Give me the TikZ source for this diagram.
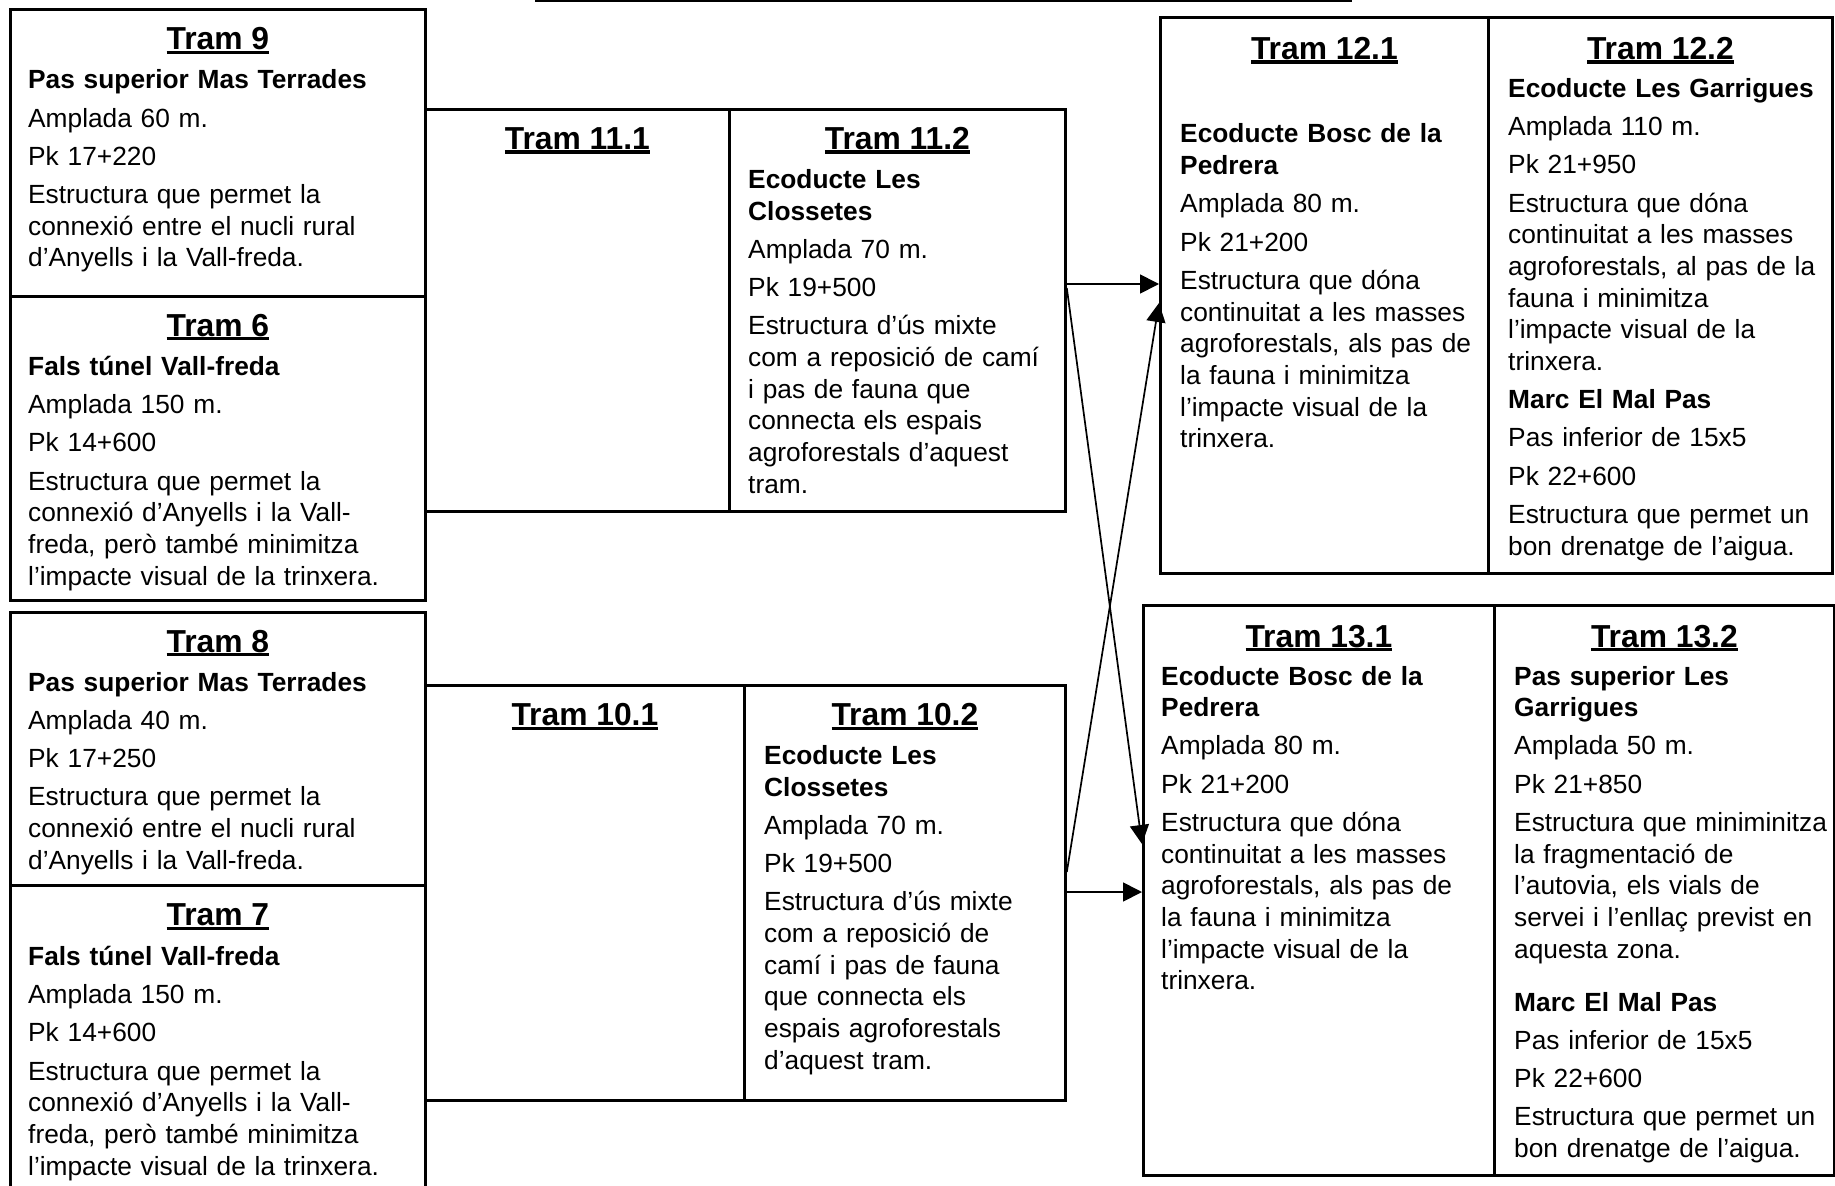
\documentclass[tikz,border=0pt]{standalone}
\usepackage{fontspec}
\setmainfont{Liberation Sans}
\usetikzlibrary{arrows.meta, calc, positioning}

% underlined title text
\newcommand{\tramul}[1]{\setbox0\hbox{#1}\rlap{\rule[-4.3pt]{\wd0}{3.3pt}}\box0}
\newcommand{\pgap}{\\[6.5pt]}

\tikzset{
  cell/.style 2 args={draw, line width=2.8pt, anchor=north west, inner sep=0pt,
    minimum width=#1pt, minimum height=#2pt},
  head/.style={anchor=base, inner sep=0pt, font=\fontsize{31.8}{38}\selectfont\bfseries},
  body/.style={anchor=base west, inner sep=0pt, text width=400pt, align=left,
    font=\fontsize{26.3}{31.7}\selectfont},
  link/.style={line width=1.7pt, -{Triangle[length=19pt,width=19pt]}}
}

\begin{document}
\begin{tikzpicture}[x=1pt, y=-1pt]
    \useasboundingbox (0,0) rectangle (1835,1185);
    \draw[line width=2pt] (535,1) -- (1352,1);

    % left column
    \node[cell={415}{287}] (t9) at (9,8) {};
    \node[head] (t9h) at ($(t9.north)+(0,42)$) {\tramul{Tram 9}};
    \node[body] (t9b) at ($(t9.north west)+(19,81)$) {
        \textbf{Pas superior Mas Terrades}\pgap
        Amplada 60 m.\pgap
        Pk 17+220\pgap
        Estructura que permet la\\
        connexió entre el nucli rural\\
        d’Anyells i la Vall-freda.};

    \node[cell={415}{304}] (t6) at (9,295) {};
    \node[head] (t6h) at ($(t6.north)+(0,41)$) {\tramul{Tram 6}};
    \node[body] (t6b) at ($(t6.north west)+(19,80.5)$) {
        \textbf{Fals túnel Vall-freda}\pgap
        Amplada 150 m.\pgap
        Pk 14+600\pgap
        Estructura que permet la\\
        connexió d’Anyells i la Vall-\\
        freda, però també minimitza\\
        l’impacte visual de la trinxera.};

    \node[cell={415}{273}] (t8) at (9,611) {};
    \node[head] (t8h) at ($(t8.north)+(0,41)$) {\tramul{Tram 8}};
    \node[body] (t8b) at ($(t8.north west)+(19,80)$) {
        \textbf{Pas superior Mas Terrades}\pgap
        Amplada 40 m.\pgap
        Pk 17+250\pgap
        Estructura que permet la\\
        connexió entre el nucli rural\\
        d’Anyells i la Vall-freda.};

    \node[cell={415}{320}] (t7) at (9,884) {};
    \node[head] (t7h) at ($(t7.north)+(0,41.5)$) {\tramul{Tram 7}};
    \node[body] (t7b) at ($(t7.north west)+(19,81.5)$) {
        \textbf{Fals túnel Vall-freda}\pgap
        Amplada 150 m.\pgap
        Pk 14+600\pgap
        Estructura que permet la\\
        connexió d’Anyells i la Vall-\\
        freda, però també minimitza\\
        l’impacte visual de la trinxera.};

    % middle column
    \node[cell={304}{402}] (t111) at (424,108) {};
    \node[head] (t111h) at ($(t111.north)+(0,41.5)$) {\tramul{Tram 11.1}};
    \node[cell={336}{402}] (t112) at (728,108) {};
    \node[head] (t112h) at ($(t112.north)+(0,41.5)$) {\tramul{Tram 11.2}};
    \node[body] (t112b) at ($(t112.north west)+(20,80.5)$) {
        \textbf{Ecoducte Les}\\
        \textbf{Clossetes}\pgap
        Amplada 70 m.\pgap
        Pk 19+500\pgap
        Estructura d’ús mixte\\
        com a reposició de camí\\
        i pas de fauna que\\
        connecta els espais\\
        agroforestals d’aquest\\
        tram.};

    \node[cell={319}{415}] (t101) at (424,684) {};
    \node[head] (t101h) at ($(t101.north)+(0,41.5)$) {\tramul{Tram 10.1}};
    \node[cell={321}{415}] (t102) at (743,684) {};
    \node[head] (t102h) at ($(t102.north)+(0,41.5)$) {\tramul{Tram 10.2}};
    \node[body] (t102b) at ($(t102.north west)+(21,80.5)$) {
        \textbf{Ecoducte Les}\\
        \textbf{Clossetes}\pgap
        Amplada 70 m.\pgap
        Pk 19+500\pgap
        Estructura d’ús mixte\\
        com a reposició de\\
        camí i pas de fauna\\
        que connecta els\\
        espais agroforestals\\
        d’aquest tram.};

    % right column
    \node[cell={328}{556}] (t121) at (1159,16) {};
    \node[head] (t121h) at ($(t121.north)+(0,43.5)$) {\tramul{Tram 12.1}};
    \node[body] (t121b) at ($(t121.north west)+(21,127)$) {
        \textbf{Ecoducte Bosc de la}\\
        \textbf{Pedrera}\pgap
        Amplada 80 m.\pgap
        Pk 21+200\pgap
        Estructura que dóna\\
        continuitat a les masses\\
        agroforestals, als pas de\\
        la fauna i minimitza\\
        l’impacte visual de la\\
        trinxera.};
    \node[cell={344}{556}] (t122) at (1487,16) {};
    \node[head] (t122h) at ($(t122.north)+(0,43.5)$) {\tramul{Tram 12.2}};
    \node[body] (t122b) at ($(t122.north west)+(21,81.5)$) {
        \textbf{Ecoducte Les Garrigues}\pgap
        Amplada 110 m.\pgap
        Pk 21+950\pgap
        Estructura que dóna\\
        continuitat a les masses\\
        agroforestals, al pas de la\\
        fauna i minimitza\\
        l’impacte visual de la\\
        trinxera.\pgap
        \textbf{Marc El Mal Pas}\pgap
        Pas inferior de 15x5\pgap
        Pk 22+600\pgap
        Estructura que permet un\\
        bon drenatge de l’aigua.};

    \node[cell={351}{570}] (t131) at (1142,604) {};
    \node[head] (t131h) at ($(t131.north)+(0,43)$) {\tramul{Tram 13.1}};
    \node[body] (t131b) at ($(t131.north west)+(19,81)$) {
        \textbf{Ecoducte Bosc de la}\\
        \textbf{Pedrera}\pgap
        Amplada 80 m.\pgap
        Pk 21+200\pgap
        Estructura que dóna\\
        continuitat a les masses\\
        agroforestals, als pas de\\
        la fauna i minimitza\\
        l’impacte visual de la\\
        trinxera.};
    \node[cell={340}{570}] (t132) at (1493,604) {};
    \node[head] (t132h) at ($(t132.north)+(0,43)$) {\tramul{Tram 13.2}};
    \node[body] (t132b) at ($(t132.north west)+(21,81)$) {
        \textbf{Pas superior Les}\\
        \textbf{Garrigues}\pgap
        Amplada 50 m.\pgap
        Pk 21+850\pgap
        Estructura que miniminitza\\
        la fragmentació de\\
        l’autovia, els vials de\\
        servei i l’enllaç previst en\\
        aquesta zona.\\[21.5pt]
        \textbf{Marc El Mal Pas}\pgap
        Pas inferior de 15x5\pgap
        Pk 22+600\pgap
        Estructura que permet un\\
        bon drenatge de l’aigua.};

    % connections
    \draw[link] ($(t112.north east)+(0,176)$) -- ($(t121.north west)+(0,268)$);
    \draw[link] ($(t112.north east)+(0,180)$) -- ($(t131.north west)+(0,240)$);
    \draw[link] ($(t102.north east)+(0,188)$) -- ($(t121.north west)+(0,287)$);
    \draw[link] ($(t102.north east)+(0,208)$) -- ($(t131.north west)+(0,288)$);
\end{tikzpicture}
\end{document}
